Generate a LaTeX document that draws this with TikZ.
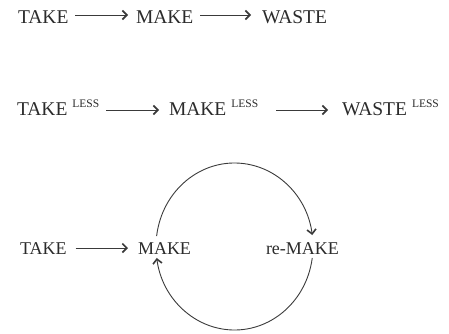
\documentclass[tikz,border=0pt]{standalone}
\usepackage{fontspec}
\setmainfont{Liberation Serif}
\usetikzlibrary{arrows.meta}
\definecolor{ink}{HTML}{2B2B2B}
\definecolor{linec}{HTML}{3A3A3A}
\begin{document}
\begin{tikzpicture}[x=1pt,y=1pt,
  big/.style={anchor=base west,inner sep=0pt,outer sep=0pt,text=ink,font=\fontsize{19.5}{20}\selectfont},
  mid/.style={anchor=base west,inner sep=0pt,outer sep=0pt,text=ink,font=\fontsize{18}{19}\selectfont,text height=12pt,text depth=0pt},
  arr/.style={draw=linec,line width=0.9pt,-{Straight Barb[length=4.5pt,width=9pt,line width=1.6pt]}}]
\useasboundingbox (0,0) rectangle (449,333);
\newcommand{\lesstag}{\hspace{5pt}{\fontsize{11.5}{12}\selectfont\raisebox{8pt}{LESS}}}
% row 1
\node[big,text height=16pt,text depth=0pt] (t1) at (18,310) {TAKE};
\node[big,text height=16pt,text depth=0pt] (m1) at (136,310) {MAKE};
\node[big,text height=16pt,text depth=0pt] (w1) at (262,310) {WASTE};
\draw[arr,shorten <=7pt,shorten >=8pt] (t1.east) -- (m1.west);
\draw[arr,shorten <=6.6pt,shorten >=11pt] (m1.east) -- (w1.west);
% row 2
\node[big,text height=10pt,text depth=0pt] (t2) at (17,218) {TAKE\lesstag};
\node[big,text height=10pt,text depth=0pt] (m2) at (169,218) {MAKE\lesstag};
\node[big,text height=10pt,text depth=0pt] (w2) at (342,218) {WASTE\lesstag};
\draw[arr,shorten <=7pt,shorten >=10pt] (t2.east) -- (m2.west);
\draw[arr,shorten <=18pt,shorten >=14pt] (m2.east) -- (w2.west);
% row 3
\node[mid] (t3) at (20,79) {TAKE};
\node[mid] (m3) at (138,79) {MAKE};
\node[mid] (r3) at (266,79) {re-MAKE};
\draw[arr,shorten <=9pt,shorten >=10pt] (t3.east) -- (m3.west);
\coordinate (c) at (234.5,86.5);
\draw[arr] (c) ++(172.8:78.5 and 83.5) arc[start angle=172.8,end angle=7.9,x radius=78.5,y radius=83.5];
\draw[arr] (c) ++(-7.9:78.5 and 83.5) arc[start angle=-7.9,end angle=-172.1,x radius=78.5,y radius=83.5];
\end{tikzpicture}
\end{document}
